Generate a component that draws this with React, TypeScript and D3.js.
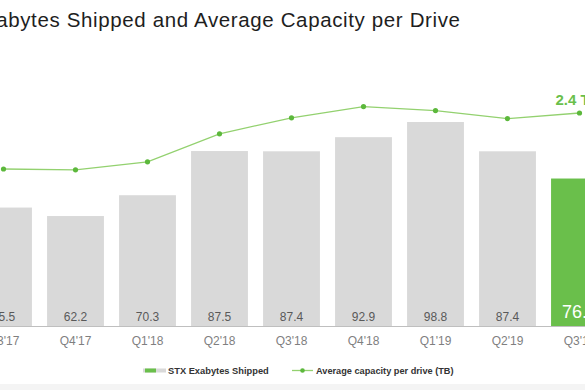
import * as d3 from "d3";
import { useEffect, useRef } from "react";

const quarters = ["Q3'17", "Q4'17", "Q1'18", "Q2'18", "Q3'18", "Q4'18", "Q1'19", "Q2'19", "Q3'19"];
const exabytes = [65.5, 62.2, 70.3, 87.5, 87.4, 92.9, 98.8, 87.4, 76.8];
const capacity = [1.7, 1.69, 1.79, 2.14, 2.34, 2.48, 2.43, 2.33, 2.4];
const capacityLabel = "2.4 TB";

const WIDTH = 585;
const HEIGHT = 390;
const BASE_Y = 326;
const GREEN = "#6abf4b";
const LINE_GREEN = "#93d16f";
const GREY_BAR = "#d9d9d9";
const FONT = "Liberation Sans, Arial, sans-serif";

export default function App() {
    const svgRef = useRef<SVGSVGElement>(null);

    useEffect(() => {
        if (svgRef.current) {
            drawChart();
        }
    }, [svgRef]);

    const drawChart = () => {
        const svg = d3.select(svgRef.current);
        svg.selectAll("*").remove();

        // background + light strip at the bottom
        svg.append("rect").attr("width", WIDTH).attr("height", HEIGHT).attr("fill", "#ffffff");
        svg.append("rect").attr("y", 384).attr("width", WIDTH).attr("height", 6).attr("fill", "#f4f4f4");

        // band scale is wider than the window, the chart is cropped on both sides
        const scaleX = d3
            .scaleBand()
            .domain(quarters)
            .range([-32.5, -32.5 + 72 * quarters.length])
            .paddingInner(0.21)
            .paddingOuter(0.105);
        const scaleY = d3.scaleLinear().domain([19.4, 98.8]).range([BASE_Y, 122]);
        const scaleCap = d3.scaleLinear().domain([1.7, 2.4]).range([169, 113]);

        drawTitle(svg);
        drawBars(svg, scaleX, scaleY);
        drawAxis(svg, scaleX);
        drawLine(svg, scaleX, scaleCap);
        drawLegend(svg);
    };

    const drawTitle = (svg: any) => {
        // the slide title is cropped on the left edge
        svg.append("text")
            .attr("x", -29)
            .attr("y", 27)
            .attr("font-family", FONT)
            .attr("font-size", 20.5)
            .attr("fill", "#1e1e1e")
            .attr("textLength", 489)
            .attr("lengthAdjust", "spacing")
            .text("Exabytes Shipped and Average Capacity per Drive");
    };

    const drawBars = (svg: any, scaleX: any, scaleY: any) => {
        const last = quarters.length - 1;
        const g = svg.append("g").classed("bars", true);
        g.selectAll("rect")
            .data(exabytes)
            .enter()
            .append("rect")
            .attr("x", (d: number, i: number) => scaleX(quarters[i]))
            .attr("width", scaleX.bandwidth())
            .attr("y", (d: number) => scaleY(d))
            .attr("height", (d: number) => BASE_Y - scaleY(d))
            .attr("fill", (d: number, i: number) => (i === last ? GREEN : GREY_BAR));

        g.selectAll("text")
            .data(exabytes)
            .enter()
            .append("text")
            .attr("x", (d: number, i: number) => scaleX(quarters[i]) + scaleX.bandwidth() / 2)
            .attr("y", (d: number, i: number) => (i === last ? 318 : 321))
            .attr("text-anchor", "middle")
            .attr("font-family", FONT)
            .attr("font-size", (d: number, i: number) => (i === last ? 18 : 12))
            .attr("fill", (d: number, i: number) => (i === last ? "#ffffff" : "#595959"))
            .text((d: number) => d.toFixed(1));
    };

    const drawAxis = (svg: any, scaleX: any) => {
        const axis = svg
            .append("g")
            .classed("x axis", true)
            .attr("transform", "translate(0," + BASE_Y + ")")
            .call(d3.axisBottom(scaleX).tickSize(0).tickPadding(10));
        axis.select(".domain").attr("stroke", "#bfbfbf").attr("d", "M0,0.5H" + WIDTH);
        axis.selectAll("text")
            .attr("font-family", FONT)
            .attr("font-size", 12)
            .attr("fill", "#7f7f7f");
    };

    const drawLine = (svg: any, scaleX: any, scaleCap: any) => {
        const cx = (i: number) => scaleX(quarters[i]) + scaleX.bandwidth() / 2;
        svg.append("path")
            .datum(capacity)
            .attr("fill", "none")
            .attr("stroke", LINE_GREEN)
            .attr("stroke-width", 1.3)
            .attr(
                "d",
                d3
                    .line<number>()
                    .x((d, i) => cx(i))
                    .y((d) => scaleCap(d))
            );
        svg.append("g")
            .selectAll("circle")
            .data(capacity)
            .enter()
            .append("circle")
            .attr("cx", (d: number, i: number) => cx(i))
            .attr("cy", (d: number) => scaleCap(d))
            .attr("r", 2.6)
            .attr("fill", "#5cb83c");

        const last = capacity.length - 1;
        svg.append("text")
            .attr("x", cx(last) - 24)
            .attr("y", scaleCap(capacity[last]) - 8)
            .attr("font-family", FONT)
            .attr("font-size", 15)
            .attr("font-weight", "bold")
            .attr("fill", GREEN)
            .text(capacityLabel);
    };

    const drawLegend = (svg: any) => {
        const g = svg.append("g").classed("legend", true);
        g.append("rect").attr("x", 143).attr("y", 368.5).attr("width", 23).attr("height", 4).attr("fill", GREY_BAR);
        g.append("rect").attr("x", 145).attr("y", 368.5).attr("width", 11).attr("height", 4).attr("fill", GREEN);
        g.append("text")
            .attr("x", 168)
            .attr("y", 374)
            .attr("font-family", FONT)
            .attr("font-size", 9.3)
            .attr("font-weight", "bold")
            .attr("fill", "#333333")
            .text("STX Exabytes Shipped");

        g.append("line")
            .attr("x1", 292)
            .attr("x2", 313)
            .attr("y1", 370.5)
            .attr("y2", 370.5)
            .attr("stroke", LINE_GREEN)
            .attr("stroke-width", 1.3);
        g.append("circle").attr("cx", 302.5).attr("cy", 370.5).attr("r", 2.3).attr("fill", "#5cb83c");
        g.append("text")
            .attr("x", 316)
            .attr("y", 374)
            .attr("font-family", FONT)
            .attr("font-size", 9.2)
            .attr("font-weight", "bold")
            .attr("fill", "#333333")
            .text("Average capacity per drive (TB)");
    };

    return (
        <svg
            ref={svgRef}
            width={WIDTH}
            height={HEIGHT}
            style={{ position: "fixed", left: 0, top: 0, display: "block" }}
        />
    );
}
